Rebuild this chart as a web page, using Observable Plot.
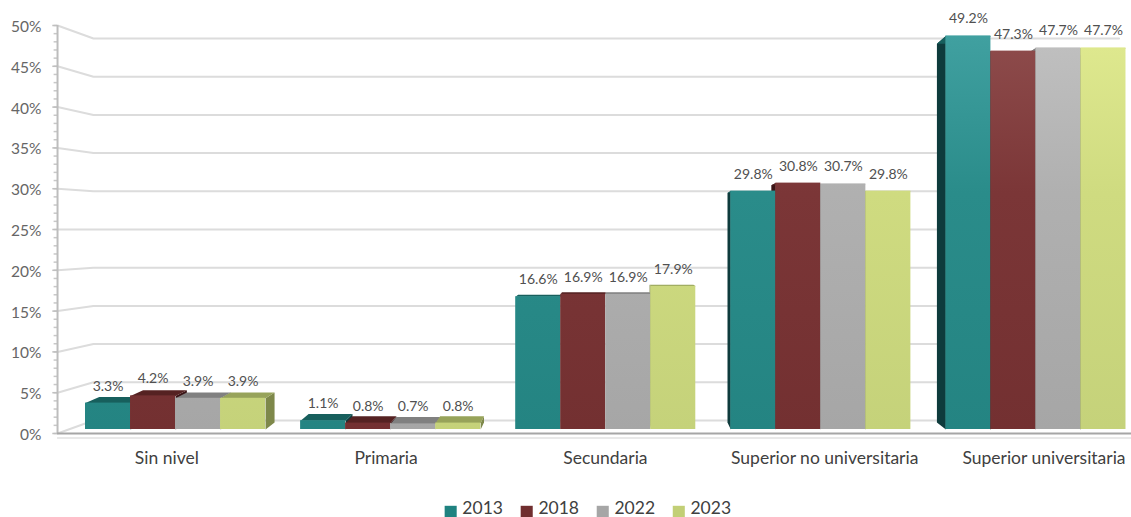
<!DOCTYPE html>
<html>
<head>
<meta charset="utf-8">
<script src="https://cdn.jsdelivr.net/npm/d3@7"></script>
<script src="https://cdn.jsdelivr.net/npm/@observablehq/plot@0.6"></script>
<style>html,body{margin:0;padding:0;background:#fff;overflow:hidden}svg{display:block}</style>
</head>
<body>
<div id="chart"></div>
<script>
const categories = ["Sin nivel", "Primaria", "Secundaria", "Superior no universitaria", "Superior universitaria"];
const years = ["2013", "2018", "2022", "2023"];
const v2013 = [3.3, 1.1, 16.6, 29.8, 49.2];
const v2018 = [4.2, 0.8, 16.9, 30.8, 47.3];
const v2022 = [3.9, 0.7, 16.9, 30.7, 47.7];
const v2023 = [3.9, 0.8, 17.9, 29.8, 47.7];
const seriesValues = [v2013, v2018, v2022, v2023];
const yTicks = [0, 5, 10, 15, 20, 25, 30, 35, 40, 45, 50];
const minorTicks = d3.range(0, 51);

// colours: [gradient top, gradient middle, gradient bottom, top face, side face, legend]
const palette = [
  ["#40a0a0", "#2a8c8a", "#248482", "#175f5d", "#0e3b3c", "#1f8280"],
  ["#8e4c4c", "#7b3637", "#733031", "#552222", "#3a1416", "#702e2f"],
  ["#c0c0c0", "#b0b0b0", "#a6a6a6", "#808080", "#6e6e6e", "#a6a6a6"],
  ["#dfe98f", "#cfdb80", "#c5d27a", "#97a35a", "#7e884a", "#c2cf76"]
];

// 3D projection of the chart's box (x in group units, y in percent)
const barW = 45 / 215;
const xCenter = 2 + 2 * barW;
const persp = 0.0264;
const backX = x => x - persp * (x - xCenter);
const backY = v => v * 0.9625 + 0.875;       // back edge of a bar
const wallY = v => v * 0.955 + 1.125;        // back wall
const axisY = v => v * 1.02 - 0.5;           // front axis
const axisL = -0.13, wallL = 0.037, wallR = 4.805, floorR = 4.87;

const bars = [];
categories.forEach((c, i) => years.forEach((y, j) => {
  const x1 = i + j * barW, x2 = x1 + barW, v = seriesValues[j][i];
  bars.push({c, i, j, year: y, x1, x2, v, xm: (x1 + x2) / 2});
}));

// side and top faces as polygons, far from the centre first
const faces = [];
bars.slice().sort((a, b) => Math.abs(b.xm - xCenter) - Math.abs(a.xm - xCenter)).forEach((b, k) => {
  const sideX = b.xm > xCenter ? b.x1 : b.x2;
  const pts = (id, color, list) => list.forEach(([x, y]) => faces.push({id: id + k, color, x, y}));
  pts("s", palette[b.j][4], [[sideX, 0], [backX(sideX), backY(0)], [backX(sideX), backY(b.v)], [sideX, b.v]]);
  pts("t", palette[b.j][3], [[b.x1, b.v], [b.x2, b.v], [backX(b.x2), backY(b.v)], [backX(b.x1), backY(b.v)]]);
});

const grid = yTicks.flatMap(t => [
  {t, x: axisL, y: axisY(t)}, {t, x: wallL, y: wallY(t)}, {t, x: wallR, y: wallY(t)}
]);

const labelX = i => i * 1.0195 + 0.378;
const legendX = i => 1.672 + i * 0.3535;

const gradients = () => {
  const svgNS = "http://www.w3.org/2000/svg";
  const defs = document.createElementNS(svgNS, "defs");
  palette.forEach((p, j) => {
    const g = document.createElementNS(svgNS, "linearGradient");
    g.setAttribute("id", "g" + j);
    g.setAttribute("gradientUnits", "userSpaceOnUse");
    g.setAttribute("x1", 0); g.setAttribute("x2", 0);
    g.setAttribute("y1", 36); g.setAttribute("y2", 430);
    [[0, p[0]], [0.4, p[1]], [1, p[2]]].forEach(([o, c]) => {
      const s = document.createElementNS(svgNS, "stop");
      s.setAttribute("offset", o); s.setAttribute("stop-color", c);
      g.appendChild(s);
    });
    defs.appendChild(g);
  });
  return defs;
};

const chart = Plot.plot({
  width: 1131,
  height: 517,
  margin: 0,
  style: {fontFamily: "Lato, sans-serif", background: "#fff"},
  x: {type: "linear", domain: [0, 5], range: [85, 1160.5], axis: null},
  y: {type: "linear", domain: [0, 50], range: [429, 29], axis: null},
  marks: [
    gradients,
    // back wall grid lines with their diagonal run to the axis
    Plot.line(grid, {x: "x", y: "y", z: "t", stroke: "#dcdcdc", strokeWidth: 2}),
    // axis line, ticks, floor
    Plot.ruleY(minorTicks, {y: axisY, x1: axisL - 0.016, x2: axisL, stroke: "#c8c8c8", strokeWidth: 1.5}),
    Plot.ruleY(yTicks, {y: axisY, x1: axisL - 0.022, x2: axisL, stroke: "#c0c0c0", strokeWidth: 1.5}),
    Plot.ruleX([axisL], {y1: axisY(0), y2: axisY(50), stroke: "#bdbdbd", strokeWidth: 2}),
    Plot.ruleY([axisY(0)], {x1: axisL, x2: floorR, stroke: "#a6a6a6", strokeWidth: 2}),
    Plot.ruleY([axisY(0) - 0.2], {x1: axisL, x2: floorR, stroke: "#e2e2e2", strokeWidth: 1.5, dy: 3}),
    // 3D faces
    Plot.line(faces, {x: "x", y: "y", z: "id", fill: {value: "color", scale: null}, stroke: "none", curve: "linear-closed"}),
    // bar fronts
    ...years.map((y, j) => Plot.rectY(bars.filter(b => b.j === j), {
      x1: "x1", x2: "x2", y1: 0, y2: "v", fill: "url(#g" + j + ")", inset: 0
    })),
    // data labels
    Plot.text(bars, {x: "xm", y: "v", text: d => d.v.toFixed(1) + "%", dy: -17, fontSize: 14, fill: "#505050"}),
    // y tick labels
    Plot.text(yTicks, {x: axisL - 0.075, y: axisY, text: d => d + "%", textAnchor: "end", dy: 1.5, fontSize: 15.5, fill: "#666666"}),
    // category labels
    Plot.text(categories, {x: (d, i) => labelX(i), y: -3.4, dy: 1.5, text: d => d, fontSize: 17.5, fill: "#404040"}),
    // legend
    ...years.map((y, j) => Plot.rect([y], {
      x1: () => legendX(j), x2: () => legendX(j) + 0.056, y1: -9.6, y2: -11.25, fill: palette[j][5]
    })),
    Plot.text(years, {x: (d, i) => legendX(i) + 0.08, y: -9.85, text: d => d, textAnchor: "start", fontSize: 17.5, fill: "#404040"})
  ]
});
document.getElementById("chart").appendChild(chart);
</script>
</body>
</html>
